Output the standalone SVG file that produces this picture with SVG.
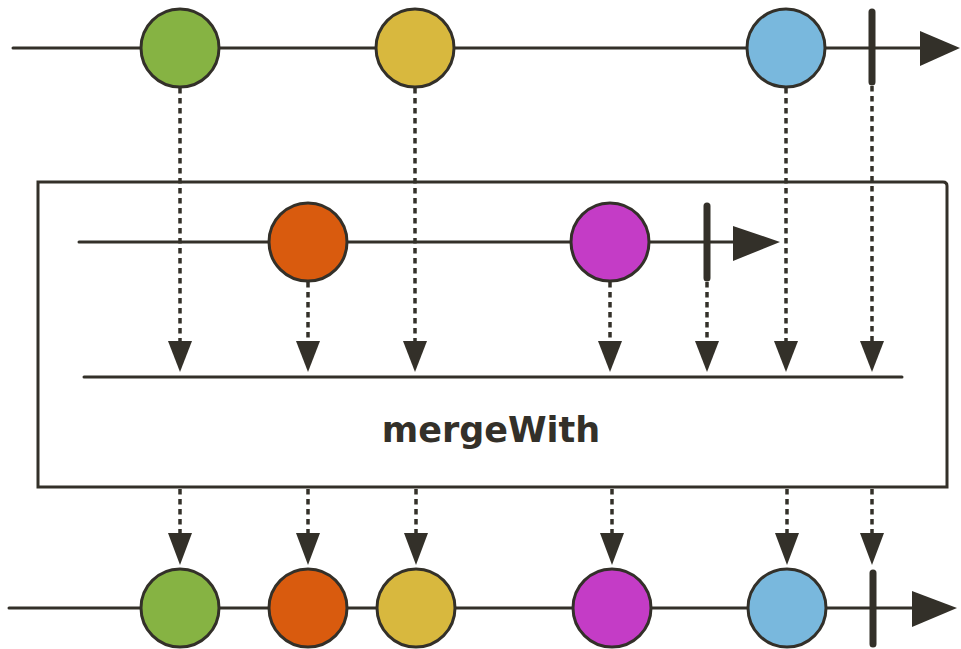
<svg xmlns="http://www.w3.org/2000/svg" width="961" height="649" viewBox="0 0 961 649">
  <style>
    .line { stroke: #333029; stroke-width: 3; fill: none; stroke-linecap: round; }
    .bar { stroke: #333029; stroke-width: 7; stroke-linecap: round; }
    .dash { stroke: #333029; stroke-width: 3.5; stroke-dasharray: 5.5 4.5; fill: none; }
    .head { fill: #333029; }
    .marble { stroke: #333029; stroke-width: 3; }
    .box { fill: #ffffff; stroke: #333029; stroke-width: 3; }
    .label { font-family: "DejaVu Sans", Verdana, sans-serif; font-weight: bold; font-size: 35px; fill: #333029; }
  </style>

  <!-- operator box -->
  <g id="operator">
    <path class="box" d="M38,182 H943 Q947,182 947,186 V487 H38 Z"/>
    <line class="line" x1="84" y1="377" x2="902" y2="377"/>
    <text class="label" x="491" y="442" text-anchor="middle">mergeWith</text>
  </g>

  <!-- connectors -->
  <g id="connectors">
    <!-- source streams into the merge line -->
    <line class="dash" x1="180" y1="88" x2="180" y2="343"/>
    <line class="dash" x1="415" y1="88" x2="415" y2="343"/>
    <line class="dash" x1="786" y1="88" x2="786" y2="343"/>
    <line class="dash" x1="872" y1="86" x2="872" y2="343"/>
    <line class="dash" x1="308" y1="282" x2="308" y2="343"/>
    <line class="dash" x1="610" y1="282" x2="610" y2="343"/>
    <line class="dash" x1="707" y1="282" x2="707" y2="343"/>
    <polygon class="head" points="168,341 192,341 180,372"/>
    <polygon class="head" points="296,341 320,341 308,372"/>
    <polygon class="head" points="403,341 427,341 415,372"/>
    <polygon class="head" points="598,341 622,341 610,372"/>
    <polygon class="head" points="695,341 719,341 707,372"/>
    <polygon class="head" points="774,341 798,341 786,372"/>
    <polygon class="head" points="860,341 884,341 872,372"/>
    <!-- merged output -->
    <line class="dash" x1="180" y1="489" x2="180" y2="535"/>
    <line class="dash" x1="308" y1="489" x2="308" y2="535"/>
    <line class="dash" x1="416" y1="489" x2="416" y2="535"/>
    <line class="dash" x1="612" y1="489" x2="612" y2="535"/>
    <line class="dash" x1="787" y1="489" x2="787" y2="535"/>
    <line class="dash" x1="872" y1="489" x2="872" y2="535"/>
    <polygon class="head" points="168,533 192,533 180,565"/>
    <polygon class="head" points="296,533 320,533 308,565"/>
    <polygon class="head" points="404,533 428,533 416,565"/>
    <polygon class="head" points="600,533 624,533 612,565"/>
    <polygon class="head" points="775,533 799,533 787,565"/>
    <polygon class="head" points="860,533 884,533 872,565"/>
  </g>

  <!-- first source stream -->
  <g id="source-a">
    <line class="line" x1="13" y1="48" x2="922" y2="48"/>
    <polygon class="head" points="920,31 960,48 920,66"/>
    <circle class="marble" cx="180" cy="48" r="39" fill="#86b343"/>
    <circle class="marble" cx="415" cy="48" r="39" fill="#d8b83e"/>
    <circle class="marble" cx="786" cy="48" r="39" fill="#79b8dd"/>
    <line class="bar" x1="872" y1="12" x2="872" y2="82"/>
  </g>

  <!-- second source stream -->
  <g id="source-b">
    <line class="line" x1="79" y1="242" x2="735" y2="242"/>
    <polygon class="head" points="733,226 780,242 733,261"/>
    <circle class="marble" cx="308" cy="242" r="39" fill="#d95b0e"/>
    <circle class="marble" cx="610" cy="242" r="39" fill="#c43cc6"/>
    <line class="bar" x1="707" y1="206" x2="707" y2="278"/>
  </g>

  <!-- merged result stream -->
  <g id="result">
    <line class="line" x1="9" y1="608" x2="914" y2="608"/>
    <polygon class="head" points="912,591 957,608 912,627"/>
    <circle class="marble" cx="180" cy="608" r="39" fill="#86b343"/>
    <circle class="marble" cx="308" cy="608" r="39" fill="#d95b0e"/>
    <circle class="marble" cx="416" cy="608" r="39" fill="#d8b83e"/>
    <circle class="marble" cx="612" cy="608" r="39" fill="#c43cc6"/>
    <circle class="marble" cx="787" cy="608" r="39" fill="#79b8dd"/>
    <line class="bar" x1="873" y1="573" x2="873" y2="644"/>
  </g>
</svg>
